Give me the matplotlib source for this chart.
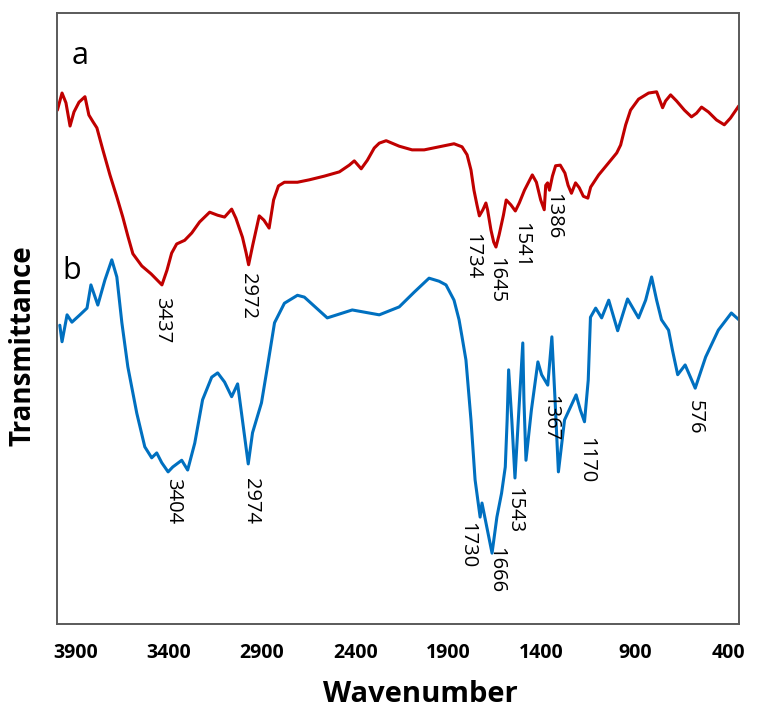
import matplotlib
matplotlib.use("Agg")
import matplotlib.pyplot as plt

# FTIR spectrum a (red)
wn_a = [3998, 3973, 3952, 3930, 3909, 3882, 3850, 3829, 3807, 3786, 3754, 3716,
        3679, 3647, 3620, 3593, 3545, 3495, 3437, 3410, 3385, 3358, 3315, 3277,
        3235, 3181, 3138, 3101, 3063, 3040, 3005, 2985, 2972, 2950, 2915, 2890,
        2862, 2838, 2812, 2780, 2710, 2646, 2566, 2485, 2432, 2405, 2368, 2335,
        2298, 2271, 2234, 2164, 2095, 2030, 1950, 1870, 1827, 1800, 1779, 1763,
        1747, 1734, 1715, 1699, 1690, 1672, 1657, 1645, 1628, 1605, 1590, 1565,
        1541, 1520, 1492, 1450, 1428, 1405, 1386, 1378, 1368, 1358, 1342, 1325,
        1300, 1275, 1258, 1240, 1218, 1198, 1176, 1152, 1137, 1094, 1040, 997,
        976, 949, 923, 880, 826, 783, 767, 751, 735, 708, 676, 634, 596, 569,
        542, 505, 462, 420, 387, 342]
t_a = [84.1, 86.9, 85.3, 81.5, 83.8, 85.4, 86.3, 83.3, 82.2, 81.2, 77.6, 73.5,
       69.9, 66.6, 63.5, 60.6, 58.6, 57.3, 55.5, 57.9, 60.7, 62.2, 62.8, 64.0,
       65.8, 67.4, 66.9, 66.6, 67.9, 66.4, 63.3, 60.7, 58.8, 62.0, 66.8, 66.1,
       64.8, 69.4, 71.7, 72.3, 72.3, 72.7, 73.3, 74.0, 75.1, 75.8, 74.5, 75.9,
       77.9, 78.7, 79.1, 78.2, 77.6, 77.6, 78.1, 78.6, 78.1, 76.8, 74.3, 71.0,
       68.6, 66.8, 67.8, 68.9, 67.8, 64.5, 62.5, 61.7, 63.7, 66.9, 69.4, 68.6,
       67.6, 68.9, 71.0, 73.5, 72.3, 69.4, 67.8, 71.8, 72.2, 71.0, 73.3, 75.0,
       75.1, 73.8, 71.8, 70.5, 72.2, 71.4, 70.0, 69.7, 71.5, 73.5, 75.5, 77.1,
       78.4, 81.7, 84.1, 85.9, 86.9, 87.1, 85.8, 84.5, 85.6, 86.6, 85.6, 84.1,
       83.0, 83.6, 84.6, 83.8, 82.5, 81.7, 82.8, 84.8]

# FTIR spectrum b (blue)
wn_b = [3985, 3973, 3946, 3920, 3877, 3839, 3818, 3781, 3743, 3706, 3679, 3652,
        3620, 3572, 3529, 3492, 3465, 3438, 3404, 3379, 3331, 3299, 3261, 3219,
        3170, 3138, 3101, 3063, 3031, 3010, 2974, 2951, 2903, 2871, 2833, 2780,
        2710, 2673, 2550, 2416, 2271, 2164, 2084, 2004, 1950, 1913, 1870, 1843,
        1827, 1806, 1779, 1757, 1730, 1720, 1666, 1640, 1615, 1595, 1585, 1577,
        1560, 1543, 1522, 1501, 1495, 1484, 1455, 1420, 1400, 1367, 1345, 1328,
        1310, 1277, 1215, 1192, 1170, 1150, 1138, 1110, 1078, 1040, 992, 939,
        880, 842, 810, 783, 757, 719, 698, 670, 630, 576, 520, 452, 382, 342]
t_b = [48.9, 46.2, 50.6, 49.4, 50.6, 51.7, 55.5, 52.2, 56.3, 59.6, 56.8, 49.3,
       42.1, 34.5, 29.0, 27.2, 28.0, 26.4, 24.9, 25.7, 26.8, 25.2, 29.6, 36.7,
       40.4, 41.1, 39.6, 37.2, 39.3, 34.5, 26.2, 31.3, 36.2, 42.1, 49.3, 52.5,
       53.8, 53.5, 50.1, 51.4, 50.6, 51.9, 54.3, 56.6, 56.1, 55.5, 53.0, 49.8,
       47.0, 43.2, 33.4, 23.6, 17.5, 19.8, 11.6, 17.5, 21.4, 25.7, 33.4, 41.6,
       33.4, 23.9, 35.0, 46.0, 36.7, 26.8, 35.0, 42.9, 40.8, 39.1, 47.0, 36.7,
       24.9, 33.4, 37.5, 35.0, 33.1, 39.9, 50.2, 51.7, 50.1, 53.0, 48.0, 53.2,
       50.1, 53.0, 56.8, 53.0, 49.8, 48.1, 44.8, 40.8, 42.4, 38.6, 43.7, 48.1,
       50.9, 49.8]

# Assigned band positions (cm-1)
peaks_a = [3437, 2972, 1734, 1645, 1541, 1386]
peaks_b = [3404, 2974, 1730, 1666, 1543, 1367, 1170, 576]

# Where each band label sits: (x, top of text) in data units
label_pos_a = [(3437, 53.5), (2977, 57.4), (1771, 64.0), (1645, 60.1),
               (1509, 65.8), (1338, 70.5)]
label_pos_b = [(3377, 23.9), (2958, 23.9), (1800, 16.7), (1645, 12.6),
               (1548, 22.4), (1356, 37.5), (1159, 30.6), (576, 36.7)]

tick_values = [3900, 3400, 2900, 2400, 1900, 1400, 900, 400]

RED = "#C00000"
BLUE = "#0070C0"
FRAME = "#5a5a5a"
FONT = ["Open Sans", "DejaVu Sans"]

fig = plt.figure(figsize=(7.58, 7.10), dpi=100)
ax = fig.add_axes([0.0752, 0.1211, 0.9, 0.8606])

ax.plot(wn_a, t_a, color=RED, lw=2.2, solid_joinstyle="round", solid_capstyle="round")
ax.plot(wn_b, t_b, color=BLUE, lw=2.2, solid_joinstyle="round", solid_capstyle="round")

for val, (x, y) in zip(peaks_a, label_pos_a):
    ax.text(x, y, str(val), rotation=270, ha="center", va="top",
            fontsize=14.5, family=FONT, color="black")
for val, (x, y) in zip(peaks_b, label_pos_b):
    ax.text(x, y, str(val), rotation=270, ha="center", va="top",
            fontsize=14.5, family=FONT, color="black")

ax.text(3877, 93.0, "a", ha="center", va="center", fontsize=22, family=FONT)
ax.text(3920, 57.8, "b", ha="center", va="center", fontsize=22, family=FONT)

ax.set_xlim(4000, 340)
ax.set_ylim(0, 100)
ax.set_xticks(tick_values)
ax.set_xticklabels([str(v) for v in tick_values], fontsize=14,
                   fontweight="bold", family=FONT)
ax.set_yticks([])
ax.tick_params(axis="x", length=0, pad=14)

for s in ax.spines.values():
    s.set_color(FRAME)
    s.set_linewidth(1.4)

fig.text(0.555, 0.0225, "Wavenumber", ha="center", va="center",
         fontsize=21, fontweight="bold", family=FONT)
fig.text(0.030, 0.5127, "Transmittance", ha="center", va="center",
         rotation=90, fontsize=20, fontweight="bold", family=FONT)

fig.savefig("out.png", dpi=100)
